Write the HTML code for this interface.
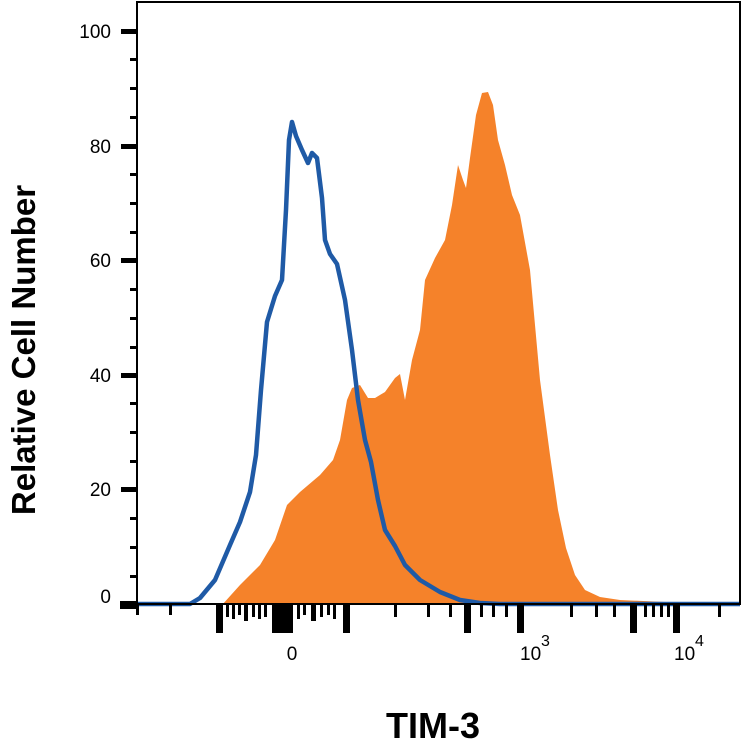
<!DOCTYPE html>
<html><head><style>
html,body{margin:0;padding:0;background:#fff;}
svg{display:block;font-family:"Liberation Sans",Arial,sans-serif;}
</style></head><body>
<svg width="742" height="746" viewBox="0 0 742 746" xmlns="http://www.w3.org/2000/svg">
<path fill="#f5822a" d="M222,605 L240,585 L260,565 L275,540 L287,505 L300,492 L320,475 L333,460 L340,440 L347,400 L352,388 L360,385 L368,398 L375,398 L385,392 L395,378 L400,374 L405,400 L412,360 L420,330 L425,280 L435,258 L445,240 L452,205 L458,165 L463,180 L466,188 L470,158 L476,115 L482,93 L488,92 L493,105 L498,140 L505,165 L512,195 L520,215 L530,270 L540,380 L550,455 L558,510 L566,548 L575,575 L585,590 L600,597 L620,600 L665,602 L668,605 Z"/>
<path fill="none" stroke="#1f5aa6" stroke-width="4.5" stroke-linejoin="round" d="M137,604 L190,604 L200,598 L215,580 L230,545 L240,522 L250,492 L256,455 L261,390 L267,322 L275,296 L282,280 L286,210 L289,140 L292,122 L296,136 L302,150 L308,163 L312,153 L317,158 L322,198 L325,240 L330,254 L337,264 L345,300 L352,350 L358,400 L365,440 L371,462 L378,500 L385,530 L395,546 L405,565 L420,580 L440,592 L460,600 L480,603 L500,604 L740,604"/>
<rect x="137" y="2" width="603" height="602" fill="none" stroke="#000" stroke-width="2"/>
<g fill="#000">
<rect x="121" y="29" width="16" height="5"/>
<rect x="121" y="144" width="16" height="5"/>
<rect x="121" y="258" width="16" height="5"/>
<rect x="121" y="373" width="16" height="5"/>
<rect x="121" y="487" width="16" height="5"/>
<rect x="120" y="601" width="17" height="8"/>
<rect x="130" y="58" width="7" height="3"/><rect x="130" y="87" width="7" height="3"/><rect x="130" y="116" width="7" height="3"/>
<rect x="130" y="173" width="7" height="3"/><rect x="130" y="202" width="7" height="3"/><rect x="130" y="231" width="7" height="3"/>
<rect x="130" y="288" width="7" height="3"/><rect x="130" y="317" width="7" height="3"/><rect x="130" y="346" width="7" height="3"/>
<rect x="130" y="402" width="7" height="3"/><rect x="130" y="431" width="7" height="3"/><rect x="130" y="460" width="7" height="3"/>
<rect x="130" y="517" width="7" height="3"/><rect x="130" y="546" width="7" height="3"/><rect x="130" y="575" width="7" height="3"/>
</g>
<g font-size="19" text-anchor="end" fill="#000">
<text x="111" y="38">100</text><text x="111" y="153">80</text><text x="111" y="267">60</text>
<text x="111" y="382">40</text><text x="111" y="496">20</text><text x="111" y="603">0</text>
</g>
<g fill="#000">
<rect x="136" y="605" width="3" height="10"/><rect x="169" y="605" width="3" height="10"/>
<rect x="216" y="605" width="7" height="28"/><rect x="226" y="605" width="3" height="12"/><rect x="232" y="605" width="3" height="14"/><rect x="238" y="605" width="3" height="10"/><rect x="244" y="605" width="4" height="16"/><rect x="252" y="605" width="3" height="12"/><rect x="258" y="605" width="3" height="14"/><rect x="264" y="605" width="3" height="12"/>
<rect x="272" y="605" width="21" height="28"/><rect x="297" y="605" width="3" height="14"/><rect x="303" y="605" width="3" height="10"/><rect x="311" y="605" width="5" height="16"/><rect x="320" y="605" width="3" height="12"/><rect x="327" y="605" width="3" height="10"/><rect x="333" y="605" width="3" height="14"/>
<rect x="343" y="605" width="7" height="28"/><rect x="394" y="605" width="3" height="12"/><rect x="427" y="605" width="3" height="12"/><rect x="449" y="605" width="3" height="12"/>
<rect x="464" y="605" width="7" height="28"/><rect x="480" y="605" width="3" height="12"/><rect x="492" y="605" width="3" height="12"/><rect x="505" y="605" width="3" height="12"/>
<rect x="517" y="605" width="7" height="28"/><rect x="570" y="605" width="3" height="12"/><rect x="595" y="605" width="3" height="12"/><rect x="613" y="605" width="3" height="12"/>
<rect x="630" y="605" width="7" height="28"/><rect x="644" y="605" width="3" height="12"/><rect x="652" y="605" width="3" height="12"/><rect x="660" y="605" width="3" height="12"/><rect x="667" y="605" width="3" height="12"/>
<rect x="673" y="605" width="7" height="28"/><rect x="718" y="605" width="3" height="12"/>
</g>
<g font-size="19" fill="#000">
<text x="292" y="660" text-anchor="middle">0</text>
<text x="520" y="660">10</text><text x="541" y="646" font-size="16">3</text>
<text x="674" y="660">10</text><text x="695" y="646" font-size="16">4</text>
</g>
<text x="433" y="738" font-size="36" font-weight="bold" text-anchor="middle">TIM-3</text>
<text transform="translate(35,350) rotate(-90)" font-size="33" font-weight="bold" text-anchor="middle">Relative Cell Number</text>
</svg>
</body></html>
